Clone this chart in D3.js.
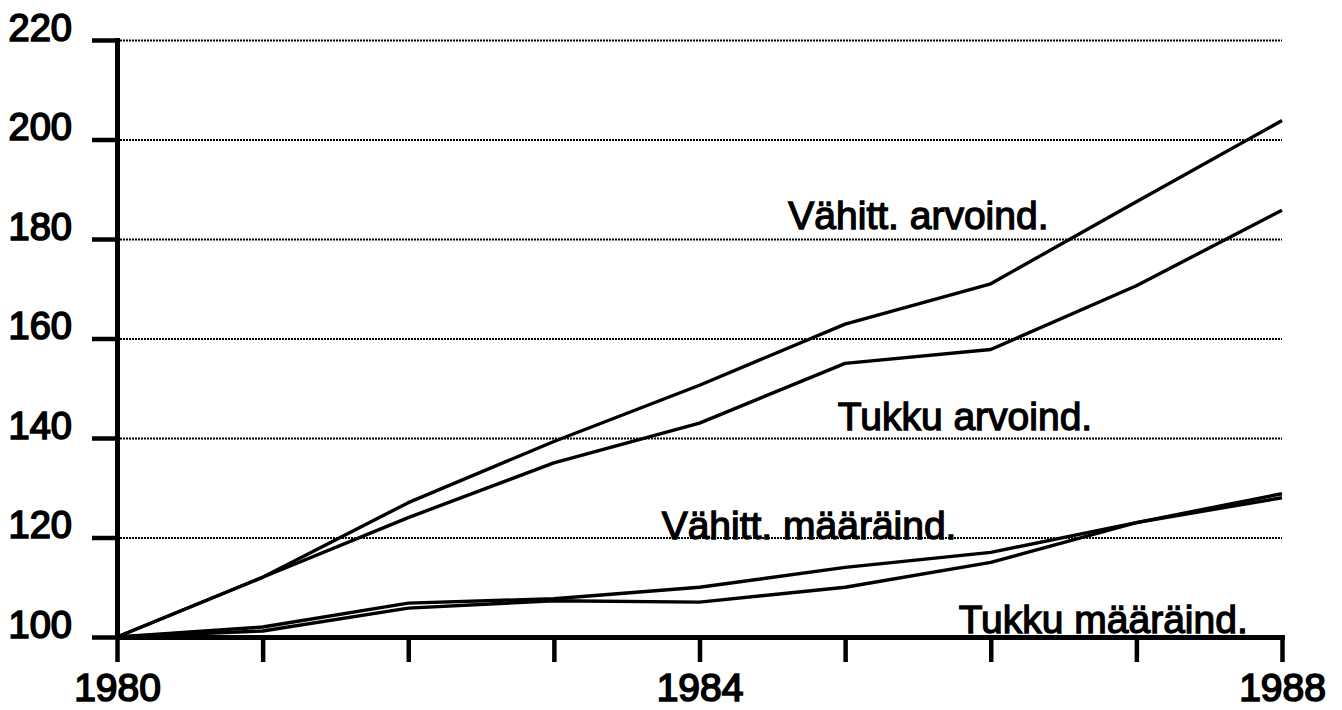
<!DOCTYPE html>
<html>
<head>
<meta charset="utf-8">
<script src="https://cdn.jsdelivr.net/npm/d3@7"></script>
<style>
	body { margin: 0; background: #fff; }
	text { font-family: "Liberation Sans", Arial, sans-serif; fill: #000; }
</style>
</head>
<body>
<script>
// data (index, 1980 = 100)
var years = [1980, 1981, 1982, 1983, 1984, 1985, 1986, 1987, 1988];
var vahittArvo = [100, 112, 127, 139.3, 150.6, 162.9, 171, 187.5, 203.8];
var tukkuArvo = [100, 112, 124, 135, 143, 155, 157.8, 170.6, 185.8];
var vahittMaara = [100, 102, 106.8, 107.7, 110, 114, 117, 123, 128];
var tukkuMaara = [100, 101.2, 105.8, 107.3, 107, 110, 115, 123, 128.8];
var yTicks = [100, 120, 140, 160, 180, 200, 220];
var xLabels = [1980, 1984, 1988];

var seriesNames = ['Vähitt. arvoind.', 'Tukku arvoind.', 'Vähitt. määräind.', 'Tukku määräind.'];
var seriesValues = [vahittArvo, tukkuArvo, vahittMaara, tukkuMaara];

var W = 1342, H = 710;

var svg = d3.select('body').append('svg')
	.attr('width', W)
	.attr('height', H);

var x = d3.scaleLinear().domain([1980, 1988]).range([117, 1282]);
var y = d3.scaleLinear().domain([100, 220]).range([637, 40]);

// dotted gridlines
svg.append('g')
	.selectAll('line')
	.data(yTicks.slice(1))
	.enter().append('line')
	.attr('x1', x(1980) + 3)
	.attr('x2', x(1988))
	.attr('y1', function(d) { return y(d) + 0.5; })
	.attr('y2', function(d) { return y(d) + 0.5; })
	.attr('stroke', '#000')
	.attr('stroke-width', 2)
	.attr('stroke-dasharray', '2,1');

// y axis
var yAxis = svg.append('g')
	.attr('transform', 'translate(' + x(1980) + ',0)')
	.call(d3.axisLeft(y).tickValues(yTicks).tickSize(25).tickSizeOuter(0).tickPadding(20));

// x axis
var xAxis = svg.append('g')
	.attr('transform', 'translate(0,' + y(100) + ')')
	.call(d3.axisBottom(x).tickValues(years).tickSize(25).tickSizeOuter(0)
		.tickFormat(function(d) { return xLabels.indexOf(d) >= 0 ? d : ''; }));

[yAxis, xAxis].forEach(function(a) {
	a.select('.domain').attr('stroke', '#000').attr('stroke-width', 5).attr('stroke-linecap', 'square');
	a.selectAll('.tick line').attr('stroke', '#000').attr('stroke-width', 4.5);
	a.selectAll('.tick text')
		.attr('font-family', '"Liberation Sans", Arial, sans-serif')
		.attr('fill', '#000')
		.attr('stroke', '#000')
		.attr('stroke-width', 1.7);
});

yAxis.selectAll('.tick text').attr('font-size', 38).attr('dy', 0).attr('y', 0).attr('x', -45);
xAxis.selectAll('.tick text').attr('font-size', 39).attr('dy', 0).attr('y', 64);

// series lines
var line = d3.line()
	.x(function(d, i) { return x(years[i]); })
	.y(function(d) { return y(d); });

svg.append('g')
	.selectAll('path')
	.data(seriesValues)
	.enter().append('path')
	.attr('d', line)
	.attr('fill', 'none')
	.attr('stroke', '#000')
	.attr('stroke-width', 3.4)
	.attr('stroke-linejoin', 'round');

// series labels, anchored in data coordinates
var labelYear = [1984.61, 1984.95, 1983.74, 1985.78];
var labelValue = [182.0, 141.6, 119.7, 100.8];

svg.append('g')
	.selectAll('text')
	.data(seriesNames)
	.enter().append('text')
	.attr('x', function(d, i) { return x(labelYear[i]); })
	.attr('y', function(d, i) { return y(labelValue[i]); })
	.attr('font-size', 39)
	.attr('stroke', '#000')
	.attr('stroke-width', 1.3)
	.text(function(d) { return d; });
</script>
</body>
</html>
